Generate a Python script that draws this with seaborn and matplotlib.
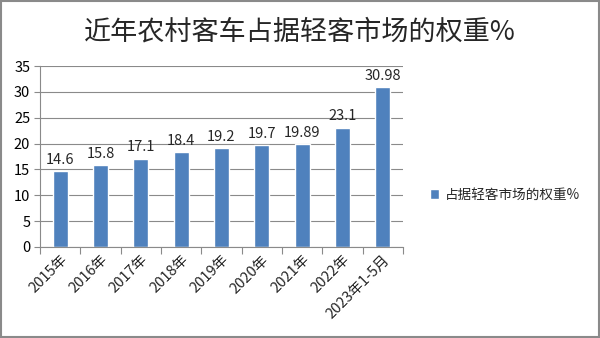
import matplotlib
matplotlib.use("Agg")
import matplotlib.pyplot as plt
import seaborn as sns
import pandas as pd
import numpy as np
from matplotlib.patches import Rectangle

categories = ["2015年", "2016年", "2017年", "2018年", "2019年", "2020年", "2021年", "2022年", "2023年1-5月"]
values = [14.6, 15.8, 17.1, 18.4, 19.2, 19.7, 19.89, 23.1, 30.98]
value_labels = ["14.6", "15.8", "17.1", "18.4", "19.2", "19.7", "19.89", "23.1", "30.98"]
series_name = "占据轻客市场的权重%"
title = "近年农村客车占据轻客市场的权重%"
yticks = [0, 5, 10, 15, 20, 25, 30, 35]

sns.set_theme(style="white")
plt.rcParams['font.family'] = ['Noto Sans CJK SC', 'DejaVu Sans']

df = pd.DataFrame({"cat": categories, "val": values, "series": series_name})

fig = plt.figure(figsize=(6, 3.38), dpi=100)
ax = fig.add_axes([40/600, 1-247/338, 363/600, (247-66)/338])

sns.barplot(data=df, x="cat", y="val", hue="series", palette=["#4F81BD"],
            width=0.38, ax=ax, legend=True, saturation=1)

ax.set_ylim(0, 35)
ax.set_xlim(-0.5, len(categories)-0.5)
ax.set_yticks(yticks)
ax.set_yticklabels([str(t) for t in yticks], fontsize=10.5, color="#000000")
ax.yaxis.grid(True, color="#8a8a8a", linewidth=0.8)
ax.set_axisbelow(True)
ax.set_xlabel("")
ax.set_ylabel("")

for s in ["top", "right"]:
    ax.spines[s].set_visible(False)
for s in ["left", "bottom"]:
    ax.spines[s].set_color("#8a8a8a")
    ax.spines[s].set_linewidth(0.8)

ax.tick_params(axis="y", left=True, length=4, color="#8a8a8a", width=0.8, pad=3)
ax.set_xticks(range(len(categories)))
ax.set_xticklabels(categories, rotation=45, ha="right", rotation_mode="anchor", fontsize=10.5)
ax.tick_params(axis="x", bottom=False, length=0, pad=4)
ax.set_xticks(np.arange(-0.5, len(categories), 1.0), minor=True)
ax.tick_params(axis="x", which="minor", bottom=True, length=5, color="#8a8a8a", width=0.8)

for cont in ax.containers:
    ax.bar_label(cont, labels=value_labels, padding=3, fontsize=10.5)

leg = ax.legend(loc="center left", bbox_to_anchor=(1.04, 0.29), frameon=False,
                fontsize=9.8, handlelength=0.7, handleheight=0.7, handletextpad=0.4)

fig.text(0.5, 1-32/338, title, ha="center", va="center", fontsize=19.5)

fig.patches.append(Rectangle((0.002, 0.003), 0.996, 0.994, transform=fig.transFigure,
                             fill=False, edgecolor="#8a8a8a", linewidth=1.5))

fig.savefig("out.png", dpi=100)
